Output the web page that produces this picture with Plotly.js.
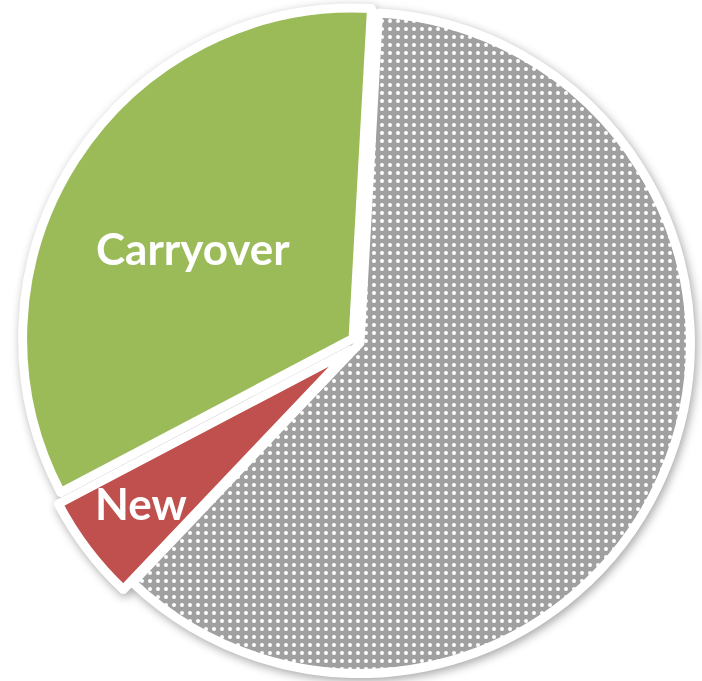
<!DOCTYPE html>
<html>
<head>
<meta charset="utf-8">
<script src="https://cdn.plot.ly/plotly-3.0.1.min.js"></script>
<style>
  html, body { margin: 0; padding: 0; background: #ffffff; width: 702px; height: 681px; overflow: hidden; }
  #wrap { position: relative; width: 702px; height: 681px; overflow: hidden; }
  #chart { position: absolute; filter: drop-shadow(2px 3px 5px rgba(0,0,0,0.35)); }
</style>
</head>
<body>
<div id="wrap"><div id="chart"></div></div>
<script>
// ---- data ----
const labels = ["Other", "New", "Carryover"];
const values = [61.2, 5.2, 33.6];
const showLabel = [false, true, true];
const sliceColors = ["#a0a0a0", "#c0504d", "#9bbb59"];
const pulls = [0, 0.035, 0.025];
// label centers in page pixels
const labelPx = [null, [141, 503], [193, 248]];

// ---- layout geometry ----
const S = 684;            // plot size (square)
const offLeft = 18, offTop = 1;
const chart = document.getElementById('chart');
chart.style.left = offLeft + 'px';
chart.style.top = offTop + 'px';

const annotations = [];
labels.forEach((lab, i) => {
  if (!showLabel[i]) return;
  const [px, py] = labelPx[i];
  annotations.push({
    text: lab,
    xref: 'paper', yref: 'paper',
    x: (px - offLeft) / S, y: 1 - (py - offTop) / S,
    xanchor: 'center', yanchor: 'middle',
    showarrow: false,
    font: { family: 'Lato', size: 44, color: '#ffffff', weight: 'bold' }
  });
});

Plotly.newPlot(chart, [{
  type: 'pie',
  labels: labels,
  values: values,
  sort: false,
  direction: 'clockwise',
  rotation: 3.2,
  pull: pulls,
  textinfo: 'none',
  hoverinfo: 'label+percent',
  marker: {
    colors: sliceColors,
    line: { color: '#ffffff', width: 9 },
    pattern: {
      shape: ['.', '', ''],
      fgcolor: ['#ffffff', '#c0504d', '#9bbb59'],
      bgcolor: sliceColors,
      fillmode: 'replace',
      size: 8, solidity: 0.2
    }
  },
  domain: { x: [0, 1], y: [0, 1] }
}], {
  width: S, height: S,
  margin: { l: 0, r: 0, t: 0, b: 0 },
  paper_bgcolor: 'rgba(0,0,0,0)',
  plot_bgcolor: 'rgba(0,0,0,0)',
  showlegend: false,
  annotations: annotations
}, { displayModeBar: false, staticPlot: true });
</script>
</body>
</html>
